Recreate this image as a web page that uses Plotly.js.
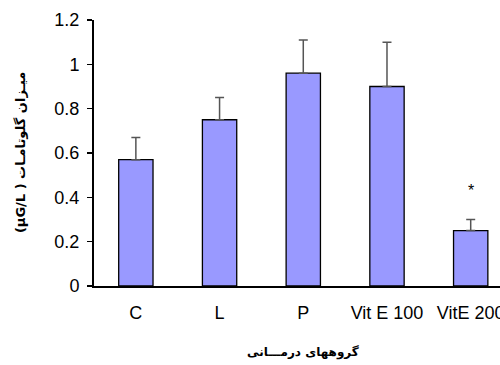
<!DOCTYPE html>
<html><head><meta charset="utf-8">
<script src="https://cdn.plot.ly/plotly-3.0.1.min.js"></script>
<style>body{margin:0;background:#fff}</style>
</head><body>
<div id="chart" style="width:500px;height:365px"></div>
<script>
const categories = ["C", "L", "P", "Vit E 100", "VitE 200"];
const means = [0.57, 0.75, 0.96, 0.90, 0.25];
const errorsPlus = [0.10, 0.10, 0.15, 0.20, 0.05];
const yTicks = [0, 0.2, 0.4, 0.6, 0.8, 1, 1.2];
const sigIndex = 4;
const sigY = 0.43;

const trace = {
  type: 'bar',
  x: categories.map((c, i) => i),
  y: means,
  width: 0.41,
  marker: {color: '#9999FF', line: {color: '#000', width: 1.3}},
  error_y: {type: 'data', symmetric: false, array: errorsPlus, arrayminus: means.map(() => 0),
            color: '#555', thickness: 1.5, width: 4.5},
  hoverinfo: 'none'
};

const layout = {
  width: 500, height: 365,
  margin: {l: 94, r: 0, t: 20, b: 79},
  paper_bgcolor: '#fff', plot_bgcolor: '#fff',
  showlegend: false,
  font: {family: 'Liberation Sans, Arial, sans-serif', color: '#000', size: 18},
  xaxis: {
    range: [-0.5, 4.35], tickmode: 'array', tickvals: categories.map((c, i) => i), ticktext: categories,
    showline: true, linecolor: '#000', linewidth: 2, ticks: '', showgrid: false, zeroline: false,
    tickfont: {size: 18}, ticklabelstandoff: 9, ticklabeloverflow: 'allow'
  },
  yaxis: {
    range: [0, 1.2], tickmode: 'array', tickvals: yTicks, ticktext: yTicks.map(String),
    showline: true, linecolor: '#000', linewidth: 2, ticks: 'outside', ticklen: 5, tickwidth: 1.5,
    tickcolor: '#000', showgrid: false, zeroline: false, tickfont: {size: 18}, ticklabelstandoff: 4
  },
  annotations: [
    {xref: 'x', yref: 'y', x: sigIndex, y: sigY, text: '*', showarrow: false, font: {size: 16}},
    {xref: 'paper', yref: 'paper', x: -0.182, y: 0.5, xanchor: 'center', yanchor: 'middle', textangle: -90, showarrow: false,
     text: '<b>\u202Bمیـزان گلوتامـات ( µG/L)\u202C</b>', font: {size: 13, family: 'DejaVu Sans, Arial, sans-serif'}},
    {xref: 'paper', yref: 'paper', x: 0.515, y: -0.25, xanchor: 'center', yanchor: 'middle', showarrow: false,
     text: '<b>گروههای درمـــانی</b>', font: {size: 12, family: 'DejaVu Sans, Arial, sans-serif'}}
  ]
};

Plotly.newPlot('chart', [trace], layout, {staticPlot: true, displayModeBar: false});
</script>
</body></html>
